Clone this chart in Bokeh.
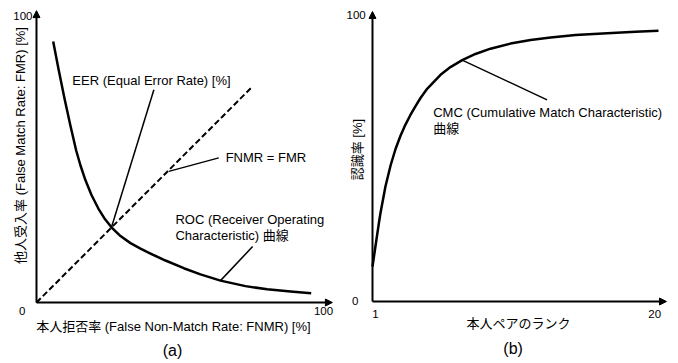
from math import pi
from bokeh.plotting import figure
from bokeh.models import Arrow, NormalHead, Label, Range1d
from bokeh.layouts import row
from bokeh.embed import file_html
from bokeh.resources import INLINE

# ---------------- data ----------------
# (a) ROC curve: FNMR [%] vs FMR [%]
roc_fnmr = [5.82, 7.67, 9.76, 11.85, 13.83, 15.33, 17.07, 19.16, 21.60, 23.69, 26.13, 29.27,
            32.75, 36.24, 39.72, 44.95, 51.32, 57.14, 64.11, 72.82, 80.38, 88.50, 95.71]
roc_fmr = [90.94, 81.36, 71.08, 61.50, 52.96, 47.74, 42.58, 37.46, 32.65, 29.30, 26.20, 23.14,
           20.70, 18.78, 17.07, 14.63, 11.95, 9.79, 7.63, 5.71, 4.60, 3.83, 3.24]
# FNMR = FMR line
eq_x = [0, 75.3]
eq_y = [0, 75.3]
eer = [26.13, 26.20]
a_xticks = [100]
a_yticks = [100]

# (b) CMC curve: rank vs recognition rate [%]
cmc_rank = [1.0, 1.20, 1.42, 1.53, 1.86, 2.20, 2.53, 2.86, 3.19, 3.52, 3.86, 4.19, 4.63, 5.52,
            6.18, 6.96, 7.84, 8.84, 10.17, 11.50, 12.83, 14.49, 16.59, 18.48, 20.0]
cmc_rate = [12.24, 19.41, 27.27, 30.94, 40.21, 47.55, 53.32, 57.94, 61.85, 65.21, 68.32, 71.15,
            74.37, 79.27, 81.96, 84.41, 86.54, 88.39, 90.17, 91.43, 92.34, 93.15, 93.78, 94.30, 94.65]
b_xticks = [1, 20]
b_yticks = [0, 100]

FONT = "Liberation Sans, Noto Sans CJK JP"
FS = "13px"
TFS = "11.5px"


def lab(p, x, y, text, align="left", baseline="middle", size=FS, angle=0.0):
    p.add_layout(Label(x=x, y=y, text=text, text_align=align, text_baseline=baseline,
                       text_font=FONT, text_font_size=size, text_color="black", angle=angle))


def arrow(p, x0, y0, x1, y1):
    p.add_layout(Arrow(end=NormalHead(size=7, fill_color="black", line_color="black", line_width=1),
                       x_start=x0, y_start=y0, x_end=x1, y_end=y1, line_width=2, line_color="black"))


def base(width, xr, yr):
    p = figure(width=width, height=363, x_range=Range1d(*xr), y_range=Range1d(*yr),
               output_backend="svg", toolbar_location=None, min_border=0,
               x_axis_type=None, y_axis_type=None)
    p.outline_line_color = None
    p.background_fill_color = "white"
    p.border_fill_color = "white"
    return p


# ---------------- panel (a) ----------------
pa = base(340, (-12.54, 105.92), (-21.25, 105.23))
arrow(pa, 0, 0, 103.1, 0)
arrow(pa, 0, 0, 0, 101.7)
pa.line(eq_x, eq_y, line_color="black", line_width=2, line_dash="6 3")
pa.line(roc_fnmr, roc_fmr, line_color="black", line_width=2.5, line_join="round")
# leader lines
pa.line([40.9, eer[0]], [74.1, eer[1]], line_color="black", line_width=1.5)
pa.line([63.5, 46.1], [50.4, 45.7], line_color="black", line_width=1.5)
pa.line([75.3, roc_fnmr[18]], [19.5, roc_fmr[18]], line_color="black", line_width=1.5)

for t in a_xticks:
    lab(pa, t, -3.0, str(t), align="center", size=TFS)
for t in a_yticks:
    lab(pa, -1.4, t, str(t), align="right", size=TFS)
lab(pa, -5.0, -3.0, "0", align="center", size=TFS)

lab(pa, 47.7, -8.4, "本人拒否率 (False Non-Match Rate: FNMR) [%]", align="center")
lab(pa, -5.6, 54.7, "他人受入率 (False Match Rate: FMR) [%]", align="center", angle=pi / 2)
lab(pa, 47.4, -16.6, "(a)", align="center", size="16px")
lab(pa, 12.5, 77.4, "EER (Equal Error Rate) [%]")
lab(pa, 65.9, 50.5, "FNMR = FMR")
lab(pa, 48.4, 28.9, "ROC (Receiver Operating")
lab(pa, 48.4, 23.3, "Characteristic) 曲線")

# ---------------- panel (b) ----------------
pb = base(338, (-1.126, 21.33), (-21.68, 105.24))
arrow(pb, 1, 0, 20.53, 0)
arrow(pb, 1, 0, 1, 101.4)
pb.line(cmc_rank, cmc_rate, line_color="black", line_width=2.5, line_join="round")
pb.line([cmc_rank[15], 12.6], [cmc_rate[15], 70.5], line_color="black", line_width=1.5)

for t in b_xticks:
    lab(pb, t + 0.2 if t == 1 else t - 0.25, -4.3, str(t), align="center", size=TFS)
for t in b_yticks:
    lab(pb, 0.55 if t == 100 else 0.07, t, str(t), align="right", size=TFS)

lab(pb, 10.7, -7.8, "本人ペアのランク", align="center")
lab(pb, 0.0, 53.1, "認識率 [%]", align="center", angle=pi / 2)
lab(pb, 10.34, -16.5, "(b)", align="center", size="16px")
lab(pb, 5.03, 66.2, "CMC (Cumulative Match Characteristic)")
lab(pb, 5.03, 60.6, "曲線")

layout = row(pa, pb)
open("out.html", "w").write(file_html(layout, INLINE))
